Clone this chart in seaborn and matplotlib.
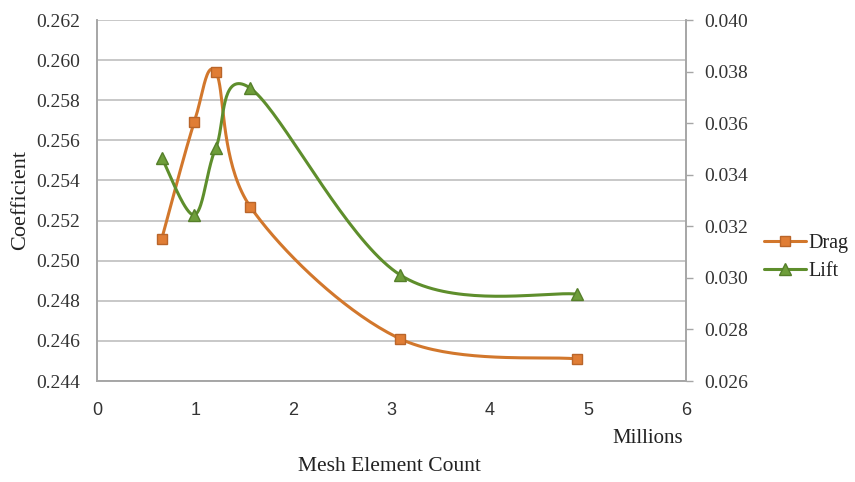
import numpy as np
import pandas as pd
import matplotlib
matplotlib.use("Agg")
import matplotlib.pyplot as plt
from matplotlib.lines import Line2D
import seaborn as sns

# mesh size in millions of elements
mesh = [0.66, 0.99, 1.21, 1.56, 3.09, 4.89]
drag = [0.2511, 0.2569, 0.2594, 0.2527, 0.2461, 0.2451]
lift = [0.03465, 0.03244, 0.03504, 0.03736, 0.03011, 0.02937]

left_ticks = [0.244, 0.246, 0.248, 0.250, 0.252, 0.254, 0.256, 0.258, 0.260, 0.262]
right_ticks = [0.026, 0.028, 0.030, 0.032, 0.034, 0.036, 0.038, 0.040]
x_ticks = [0, 1, 2, 3, 4, 5, 6]

drag_color = "#D2772C"
lift_color = "#5E8E2C"
grid_color = "#BFBFBF"


def smooth(x, y, n=40):
    # excel style smoothed line: catmull-rom bezier through the points
    x = np.asarray(x, float)
    y = np.asarray(y, float)
    px = np.concatenate([[x[0]], x, [x[-1]]])
    py = np.concatenate([[y[0]], y, [y[-1]]])
    xs, ys = [], []
    t = np.linspace(0, 1, n)
    for i in range(1, len(px) - 2):
        p0 = np.array([px[i], py[i]])
        p3 = np.array([px[i + 1], py[i + 1]])
        p1 = p0 + (np.array([px[i + 1], py[i + 1]]) - np.array([px[i - 1], py[i - 1]])) / 6
        p2 = p3 - (np.array([px[i + 2], py[i + 2]]) - np.array([px[i], py[i]])) / 6
        b = ((1 - t) ** 3)[:, None] * p0 + (3 * (1 - t) ** 2 * t)[:, None] * p1 \
            + (3 * (1 - t) * t ** 2)[:, None] * p2 + (t ** 3)[:, None] * p3
        xs.extend(b[:, 0])
        ys.extend(b[:, 1])
    return pd.DataFrame({"x": xs, "y": ys})


sns.set_theme(style="white")
plt.rcParams["font.family"] = ["Liberation Serif", "DejaVu Serif"]

fig = plt.figure(figsize=(8.55, 4.82), dpi=100)
ax = fig.add_axes([0.1135, 0.2095, 0.6888, 0.749])
ax2 = ax.twinx()

d_s = smooth(mesh, drag)
l_s = smooth(mesh, lift)
sns.lineplot(data=d_s, x="x", y="y", sort=False, ax=ax, color=drag_color, lw=2.2, zorder=3)
ax.plot(mesh, drag, ls="none", marker="s", ms=7.5, mfc="#E07D35", mec="#B9652A", mew=1, zorder=4)
sns.lineplot(data=l_s, x="x", y="y", sort=False, ax=ax2, color=lift_color, lw=2.2, zorder=3)
ax2.plot(mesh, lift, ls="none", marker="^", ms=8.5, mfc="#6E9E3A", mec="#557F2A", mew=1, zorder=4)

ax.set_xlim(0, 6)
ax.set_ylim(0.244, 0.262)
ax2.set_ylim(0.026, 0.040)
ax.set_xticks(x_ticks)
ax.set_xticklabels([str(v) for v in x_ticks], family="Liberation Sans")
ax.set_yticks(left_ticks)
ax.set_yticklabels([f"{v:.3f}" for v in left_ticks])
ax2.set_yticks(right_ticks)
ax2.set_yticklabels([f"{v:.3f}" for v in right_ticks])

ax.yaxis.grid(True, color=grid_color, lw=1.2)
ax.xaxis.grid(False)
ax2.grid(False)
ax.set_xlabel("")
ax.set_ylabel("")
ax2.set_xlabel("")
ax2.set_ylabel("")

for a in (ax, ax2):
    a.spines["top"].set_visible(False)
    for s in ("left", "right", "bottom"):
        a.spines[s].set_color("#A6A6A6")
        a.spines[s].set_linewidth(1.2)
ax.tick_params(axis="y", length=0, pad=12, labelsize=14, colors="#333333")
ax.tick_params(axis="x", length=0, pad=15, labelsize=13, colors="#333333")
ax2.tick_params(axis="y", length=5, width=1, color="#A6A6A6", pad=8, labelsize=14, labelcolor="#333333")

fig.text(0.024, 0.585, "Coefficient", rotation=90, ha="center", va="center", fontsize=16, color="#222222")
fig.text(0.757, 0.091, "Millions", ha="center", va="center", fontsize=15, color="#222222")
fig.text(0.456, 0.033, "Mesh Element Count", ha="center", va="center", fontsize=15.5, color="#222222")

handles = [
    Line2D([], [], color=drag_color, lw=2.2, marker="s", ms=7.5, mfc="#E07D35", mec="#B9652A"),
    Line2D([], [], color=lift_color, lw=2.2, marker="^", ms=8.5, mfc="#6E9E3A", mec="#557F2A"),
]
fig.legend(handles, ["Drag", "Lift"], loc="center left", bbox_to_anchor=(0.893, 0.465),
           frameon=False, fontsize=14.5, handlelength=2.1, handletextpad=0.15, labelspacing=0.45,
           labelcolor="#222222", borderaxespad=0, borderpad=0)

fig.savefig("out.png", dpi=100)
